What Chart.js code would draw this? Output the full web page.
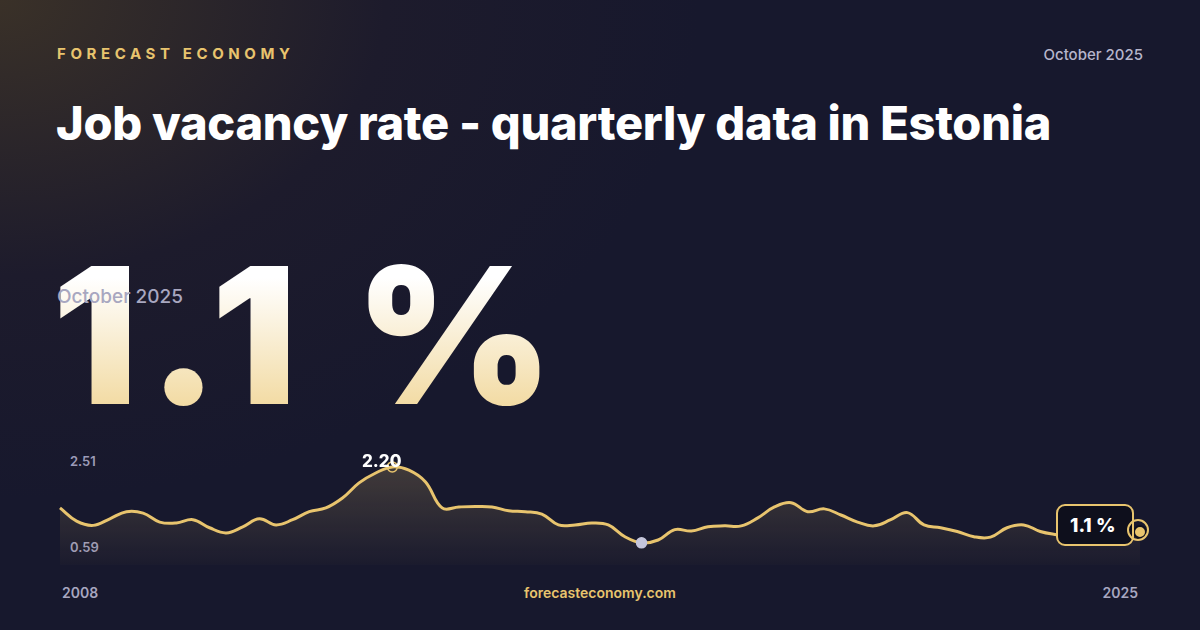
<!DOCTYPE html>
<html><head><meta charset="utf-8">
<script src="https://cdn.jsdelivr.net/npm/chart.js@4"></script>
<style>
body{margin:0;width:1200px;height:630px;overflow:hidden;font-family:Inter,"Noto Sans",sans-serif;
background:radial-gradient(ellipse 700px 500px at 0 0,#3a3128 0%,#1d1b2c 55%,#17182d 100%);background-color:#17182d;position:relative;color:#fff}
.abs{position:absolute}
#brand{left:57px;top:44px;font-size:15px;font-weight:700;letter-spacing:4.6px;color:#e8c46e}
#date{right:57px;top:45px;font-size:15px;color:#b6b5cb;font-weight:500}
#title{left:56px;top:94px;font-size:47px;font-weight:800;letter-spacing:-0.3px}
#big{left:52px;top:240px;font-size:190px;font-weight:900;letter-spacing:10px;line-height:1;
background:linear-gradient(#fff 20%,#f0d492 100%);-webkit-background-clip:text;color:transparent}
#sub{left:57px;top:285px;font-size:19px;color:#a8a7c0;font-weight:500}
.yl{left:70px;font-size:13px;color:#9c9bb8;font-weight:600}
.bt{top:584px;font-size:14px;font-weight:600;color:#a8a7c0}
#badge{left:1056px;top:504px;width:78px;height:42px;border:2px solid #e8c46e;border-radius:9px;background:#0e0f1c;z-index:2;
box-sizing:border-box;font-size:19px;font-weight:800;display:flex;align-items:center;justify-content:flex-start;padding-left:12px}
#peak{left:362px;top:451px;font-size:17px;font-weight:800;color:#fff;z-index:2}
#ring{left:1127px;top:519px;width:22px;height:22px;border:2px solid #e8c46e;border-radius:50%;box-sizing:border-box;z-index:3}
</style></head><body>
<div class="abs" id="brand">FORECAST ECONOMY</div>
<div class="abs" id="date">October 2025</div>
<div class="abs" id="title">Job vacancy rate - quarterly data in Estonia</div>
<div class="abs" id="big">1.1 %</div>
<div class="abs" id="sub">October 2025</div>
<div class="abs yl" style="top:453px">2.51</div>
<div class="abs yl" style="top:539px">0.59</div>
<div class="abs" style="left:50px;top:430px;width:1100px;height:145px"><canvas id="c"></canvas></div>
<div class="abs" id="peak">2.20</div>
<div class="abs" id="badge">1.1 %</div>
<div class="abs bt" style="left:62px">2008</div>
<div class="abs bt" style="left:0;width:1200px;text-align:center;color:#e8c46e">forecasteconomy.com</div>
<div class="abs bt" style="right:62px">2025</div>
<script>
const values = [1.33,1.05,0.96,1.10,1.25,1.22,1.03,1.01,1.08,0.91,0.80,0.93,1.10,0.97,1.08,1.25,1.33,1.54,1.86,2.07,2.20,2.13,1.88,1.33,1.35,1.36,1.35,1.27,1.25,1.20,0.97,0.97,1.01,0.97,0.72,0.59,0.65,0.87,0.84,0.93,0.95,0.95,1.12,1.35,1.44,1.25,1.31,1.18,1.03,0.95,1.08,1.23,0.97,0.91,0.83,0.72,0.71,0.91,0.97,0.83,0.76,0.71,0.74,0.78,0.80,0.82];
const labels = values.map((v, i) => 2008 + i / 4);
const peakIdx = values.indexOf(Math.max(...values));
const minIdx = values.indexOf(Math.min(...values));
const lastIdx = values.length - 1;

const ctx = document.getElementById('c');
new Chart(ctx, {
    type: 'line',
    data: {
        labels: labels,
        datasets: [{
            data: values,
            borderColor: '#e8c46e',
            borderWidth: 3,
            tension: 0.4,
            fill: true,
            clip: false,
            backgroundColor: (c) => {
                const a = c.chart.chartArea;
                if (!a) return 'rgba(0,0,0,0)';
                const g = c.chart.ctx.createLinearGradient(0, a.top, 0, a.bottom);
                g.addColorStop(0, 'rgba(232,196,110,0.25)');
                g.addColorStop(1, 'rgba(232,196,110,0.02)');
                return g;
            },
            pointRadius: values.map((v, i) => i === peakIdx ? 5 : i === minIdx ? 5 : i === lastIdx ? 6 : 0),
            pointBackgroundColor: values.map((v, i) => i === minIdx ? '#c5c6dc' : i === lastIdx ? '#e8c46e' : 'rgba(0,0,0,0)'),
            pointBorderColor: values.map((v, i) => i === minIdx ? '#c5c6dc' : i === lastIdx ? '#0e0f1c' : '#e8c46e'),
            pointBorderWidth: values.map((v, i) => i === lastIdx ? 2 : 1.5)
        }]
    },
    options: {
        responsive: true,
        maintainAspectRatio: false,
        animation: false,
        layout: { padding: 10, autoPadding: false },
        plugins: { legend: { display: false }, tooltip: { enabled: false } },
        scales: {
            x: { display: false, offset: false },
            y: { display: false, min: 0.12, max: 2.77 }
        }
    }
});
</script>
<div class="abs" id="ring"></div>
</body></html>
